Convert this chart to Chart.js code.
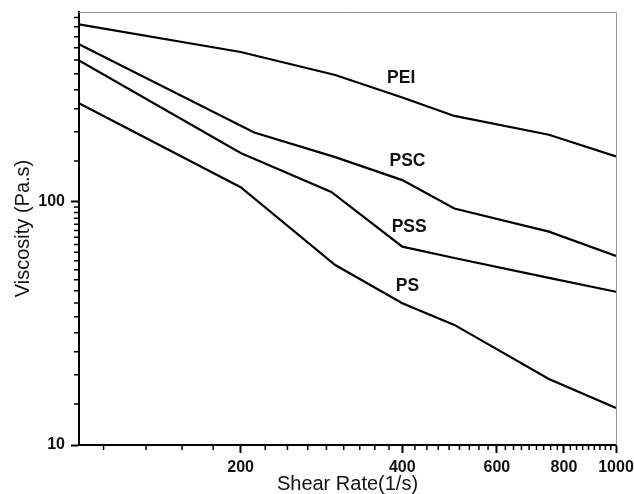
<!DOCTYPE html>
<html>
<head>
<meta charset="utf-8">
<script src="https://cdn.jsdelivr.net/npm/chart.js@4.4.1/dist/chart.umd.min.js"></script>
<style>
  html, body { margin: 0; padding: 0; background: #fff; }
  #wrap { width: 634px; height: 494px; }
</style>
</head>
<body>
<div id="wrap"><canvas id="myChart" width="634" height="494"></canvas></div>
<script>
// shear rate (1/s) and viscosity (Pa.s)
const shearPEI = [100, 200, 300, 400, 500, 750, 1000]
const viscPEI = [538, 414, 333, 269, 226, 189, 154]
const shearPSC = [100, 212, 300, 400, 500, 750, 1000]
const viscPSC = [446, 193, 153, 123, 94, 75.5, 60]
const shearPSS = [100, 200, 295, 400, 500, 750, 1000]
const viscPSS = [382, 159, 110, 65.5, 58.8, 48.7, 42.7]
const shearPS = [100, 200, 300, 400, 500, 750, 1000]
const viscPS = [255, 115, 55, 38.3, 31.2, 18.7, 14.2]

// curve names and where they sit (data coords)
const seriesNames = ["PEI", "PSC", "PSS", "PS"]
const labelX = [398, 409, 412, 409]
const labelY = [324, 147, 79, 45]

const xTicks = [200, 400, 600, 800, 1000]
const yTicks = [10, 100]

const FONT = "'Liberation Sans', Arial, sans-serif"

function points(xs, ys) {
    return xs.map((x, i) => ({ x: x, y: ys[i] }))
}

function minorX() {
    const out = []
    for (let k = 1; k < 45; k++) {
        const v = k * 200 / 9
        if (k % 9 !== 0 && v >= 100) out.push(v)
    }
    return out
}

function minorY(max) {
    const out = []
    for (let k = 1; k < 19; k++) out.push(10 + k * 90 / 19)
    for (let k = 1; k < 19; k++) {
        const v = 100 + k * 900 / 19
        if (v < max) out.push(v)
    }
    return out
}

const decor = {
    id: "decor",
    afterDraw(chart) {
        const ctx = chart.ctx
        const area = chart.chartArea
        const xs = chart.scales.x
        const ys = chart.scales.y
        ctx.save()
        // thin grey frame on top and right
        ctx.strokeStyle = "#9a9a9a"
        ctx.lineWidth = 1
        ctx.beginPath()
        ctx.moveTo(area.left, area.top + 0.5)
        ctx.lineTo(area.right + 0.5, area.top + 0.5)
        ctx.lineTo(area.right + 0.5, area.bottom)
        ctx.stroke()
        // minor ticks
        ctx.strokeStyle = "#000"
        ctx.lineWidth = 1.5
        ctx.beginPath()
        minorX().forEach(v => {
            const px = xs.getPixelForValue(v)
            ctx.moveTo(px, area.bottom)
            ctx.lineTo(px, area.bottom + 5)
        })
        minorY(ys.max).forEach(v => {
            const py = ys.getPixelForValue(v)
            ctx.moveTo(area.left, py)
            ctx.lineTo(area.left - 5, py)
        })
        ctx.stroke()
        // curve labels
        ctx.font = "bold 17.5px " + FONT
        ctx.fillStyle = "#111"
        ctx.textAlign = "center"
        ctx.textBaseline = "middle"
        seriesNames.forEach((name, i) => {
            ctx.fillText(name, xs.getPixelForValue(labelX[i]), ys.getPixelForValue(labelY[i]))
        })
        ctx.restore()
    }
}

const lineStyle = { borderColor: "#000", borderWidth: 2.2, pointRadius: 0, tension: 0, fill: false }

new Chart(document.getElementById("myChart"), {
    type: "line",
    data: {
        datasets: [
            { label: "PEI", data: points(shearPEI, viscPEI), ...lineStyle },
            { label: "PSC", data: points(shearPSC, viscPSC), ...lineStyle },
            { label: "PSS", data: points(shearPSS, viscPSS), ...lineStyle },
            { label: "PS", data: points(shearPS, viscPS), ...lineStyle }
        ]
    },
    options: {
        responsive: false,
        animation: false,
        layout: { padding: { top: 12, right: 18, left: 0, bottom: 0 } },
        plugins: { legend: { display: false }, tooltip: { enabled: false } },
        scales: {
            x: {
                type: "logarithmic",
                min: 100,
                max: 1000,
                afterBuildTicks: (scale) => { scale.ticks = xTicks.map(v => ({ value: v })) },
                afterFit: (scale) => { scale.height = 49; scale.paddingLeft = 0; scale.paddingRight = 0 },
                border: { display: true, color: "#000", width: 2 },
                grid: { display: true, drawOnChartArea: false, drawTicks: true, tickLength: 8, tickWidth: 2, tickColor: "#000" },
                ticks: {
                    autoSkip: false,
                    maxRotation: 0,
                    padding: 5,
                    color: "#111",
                    font: { family: FONT, size: 16, weight: "bold" },
                    callback: (value) => String(value)
                },
                title: {
                    display: true,
                    text: "Shear Rate(1/s)",
                    color: "#111",
                    font: { family: FONT, size: 20, lineHeight: 1 },
                    padding: { top: 0, bottom: 0 }
                }
            },
            y: {
                type: "logarithmic",
                min: 10,
                max: 605,
                afterBuildTicks: (scale) => { scale.ticks = yTicks.map(v => ({ value: v })) },
                afterFit: (scale) => { scale.width = 79; scale.paddingTop = 0; scale.paddingBottom = 0 },
                border: { display: true, color: "#000", width: 2 },
                grid: { display: true, drawOnChartArea: false, drawTicks: true, tickLength: 8, tickWidth: 2, tickColor: "#000" },
                ticks: {
                    autoSkip: false,
                    padding: 6,
                    color: "#111",
                    font: { family: FONT, size: 16, weight: "bold" },
                    callback: (value) => String(value)
                },
                title: {
                    display: true,
                    text: "Viscosity (Pa.s)",
                    color: "#111",
                    font: { family: FONT, size: 20 },
                    padding: { top: 11, bottom: 0 }
                }
            }
        }
    },
    plugins: [decor]
})
</script>
</body>
</html>
